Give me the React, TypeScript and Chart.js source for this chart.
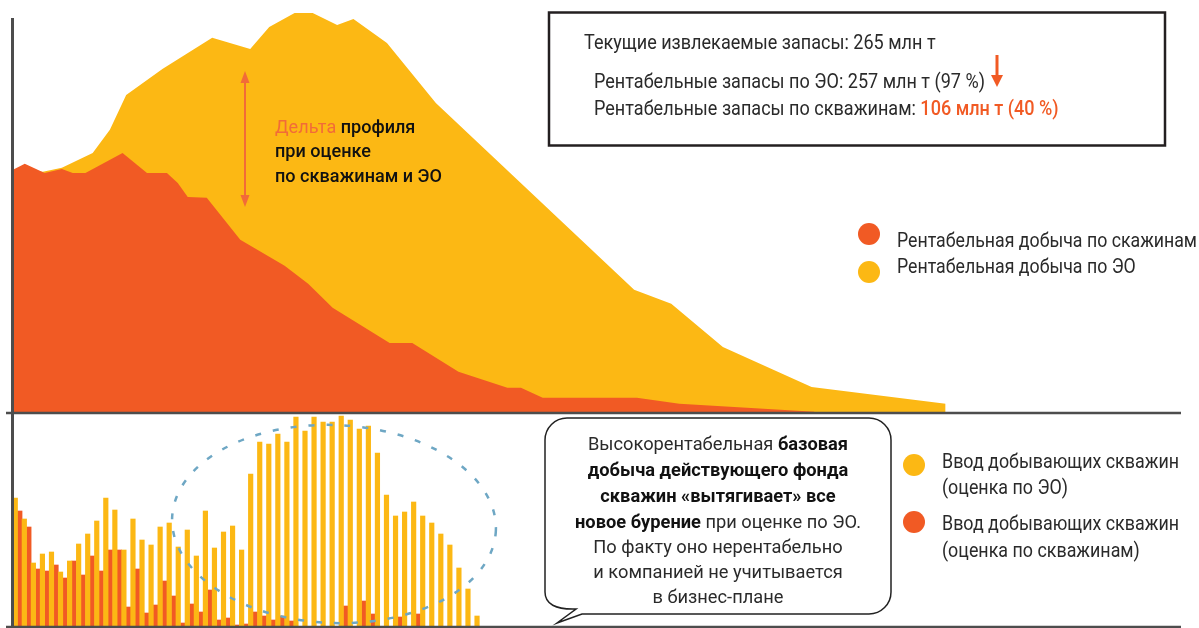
import React, { useEffect, useRef } from "react";
import { Chart, registerables } from "chart.js";

Chart.register(...registerables);

// ---- Data ----
// Upper profile: rentable production, economic-assessment (ЭО) vs per-well assessment
const ecoX = [0, 3.3, 5.4, 8.8, 10.7, 12.5, 16.5, 22.0, 26.2, 28.3, 31.1, 33.1, 35.8, 37.6, 41.3, 46.7, 68.6, 72.7, 78.4, 88.2, 103.0];
const ecoY = [60.8, 60.3, 61.3, 65.0, 70.8, 79.5, 86.0, 93.8, 91.0, 96.5, 100, 100, 97.0, 98.5, 92.5, 77.5, 30.8, 27.3, 16.5, 6.5, 2.3];
const wellX = [0, 1.3, 3.5, 5.4, 6.6, 8.0, 12.1, 14.8, 17.0, 18.2, 19.3, 21.4, 25.1, 30.0, 32.6, 35.3, 41.6, 44.1, 49.2, 54.6, 56.1, 58.5, 68.9, 73.6, 88.5];
const wellY = [60.8, 62.3, 60.0, 61.0, 60.0, 60.0, 65.0, 60.0, 60.0, 57.5, 54.0, 53.8, 43.3, 36.8, 32.3, 26.3, 17.5, 17.5, 10.3, 6.3, 6.3, 3.8, 3.8, 2.3, 0.3];

// Lower part: new producing wells per period
const drillEco = [12.9, 10.8, 6.4, 7.3, 7.5, 5.5, 6.6, 8.3, 9.3, 10.6, 12.9, 11.7, 7.7, 10.8, 8.7, 8.2, 10.0, 10.4, 8.0, 9.7, 7.1, 11.6, 7.9, 9.5, 10.1, 7.7, 15.3, 18.5, 18.3, 19.3, 18.5, 21.0, 19.6, 21.0, 20.5, 20.5, 21.1, 20.7, 19.8, 20.1, 17.4, 13.2, 11.1, 11.5, 12.5, 11.1, 10.4, 9.3, 8.2, 5.9, 3.8, 1.1];
const drillWells = [11.6, 10.0, 5.8, 5.6, 6.2, 4.9, 6.6, 5.2, 7.1, 5.6, 7.7, 7.7, 2.0, 5.8, 1.4, 2.2, 4.6, 3.1, 0.4, 2.3, 1.5, 3.7, 0.7, 0.9, 0.2, 0.3, 1.5, 1.1, 0.7, 1.1, 0.6, 0, 0, 0, 0, 0, 2.1, 0, 2.6, 1.3, 0, 0, 1.0, 0, 1.3, 0, 0, 0, 0, 0, 0, 0];

const legendTop = ["Рентабельная добыча по скажинам", "Рентабельная добыча по ЭО"];
const legendBottom = [["Ввод добывающих скважин", "(оценка по ЭО)"], ["Ввод добывающих скважин", "(оценка по скважинам)"]];

const ORANGE = "#F15A24";
const YELLOW = "#FCB814";
const DARK = "#2A2A2A";
const AXIS = "#4D4D4D";
const ACCENT = "#F26B38";
const FONT = "Roboto, 'Noto Sans', sans-serif";

type Seg = [string, string, number];

function measure(ctx: CanvasRenderingContext2D, segs: Seg[], size: number) {
  return segs.map(([t, , w]) => {
    ctx.font = `${w} ${size}px ${FONT}`;
    return ctx.measureText(t).width;
  });
}

function fitScale(ctx: CanvasRenderingContext2D, segs: Seg[], size: number, target: number) {
  const w = measure(ctx, segs, size).reduce((a, b) => a + b, 0);
  return target / w;
}

function drawSegs(ctx: CanvasRenderingContext2D, segs: Seg[], x: number, y: number, size: number, sx: number, align: "left" | "center" = "left") {
  const widths = measure(ctx, segs, size);
  const total = widths.reduce((a, b) => a + b, 0) * sx;
  const start = align === "center" ? x - total / 2 : x;
  ctx.save();
  ctx.textBaseline = "alphabetic";
  ctx.textAlign = "left";
  ctx.translate(start, y);
  ctx.scale(sx, 1);
  let cx = 0;
  segs.forEach(([t, c, w], i) => {
    ctx.font = `${w} ${size}px ${FONT}`;
    ctx.fillStyle = c;
    ctx.fillText(t, cx, 0);
    cx += widths[i];
  });
  ctx.restore();
}

function arrowHead(ctx: CanvasRenderingContext2D, x: number, y: number, dir: 1 | -1, w: number, h: number) {
  ctx.beginPath();
  ctx.moveTo(x, y);
  ctx.lineTo(x - w / 2, y - dir * h);
  ctx.lineTo(x + w / 2, y - dir * h);
  ctx.closePath();
  ctx.fill();
}

const overlay = {
  id: "overlay",
  afterDatasetsDraw(chart: any) {
    const { ctx, chartArea, scales } = chart;
    const yTop0 = scales.y.getPixelForValue(0);
    const yBot0 = scales.yb.getPixelForValue(0);
    ctx.save();
    // dashed ellipse around the drilling peak
    ctx.strokeStyle = "#6EA7C4";
    ctx.lineWidth = 2.5;
    ctx.setLineDash([6, 12]);
    ctx.beginPath();
    ctx.ellipse(334, 524, 162, 99, 0.04, 0, Math.PI * 2);
    ctx.stroke();
    ctx.setLineDash([]);
    // axes
    ctx.strokeStyle = AXIS;
    ctx.lineWidth = 2.5;
    ctx.beginPath();
    ctx.moveTo(chartArea.left - 7, yTop0);
    ctx.lineTo(chartArea.right, yTop0);
    ctx.moveTo(chartArea.left - 7, yBot0);
    ctx.lineTo(chartArea.right, yBot0);
    ctx.stroke();
    ctx.lineWidth = 3;
    ctx.beginPath();
    ctx.moveTo(chartArea.left - 0.5, 18);
    ctx.lineTo(chartArea.left - 0.5, 628);
    ctx.stroke();
    ctx.restore();
  },
  afterDraw(chart: any) {
    const ctx: CanvasRenderingContext2D = chart.ctx;
    ctx.save();

    // --- top info box ---
    ctx.strokeStyle = "#231F20";
    ctx.lineWidth = 2.5;
    ctx.strokeRect(549, 12.5, 616, 133);
    const b1: Seg[] = [["Текущие извлекаемые запасы: 265 млн т", DARK, 400]];
    const b2: Seg[] = [["Рентабельные запасы по ЭО: 257 млн т (97 %)", DARK, 400]];
    const b3: Seg[] = [["Рентабельные запасы по скважинам: ", DARK, 400], ["106 млн т (40 %)", ORANGE, 500]];
    const sBox = fitScale(ctx, b2, 21, 391);
    drawSegs(ctx, b1, 584, 49, 21, sBox);
    drawSegs(ctx, b2, 594, 88, 21, sBox);
    drawSegs(ctx, b3, 594, 115, 21, sBox);
    // down arrow in box
    ctx.strokeStyle = ORANGE;
    ctx.fillStyle = ORANGE;
    ctx.lineWidth = 3;
    ctx.beginPath();
    ctx.moveTo(997, 55);
    ctx.lineTo(997, 77);
    ctx.stroke();
    arrowHead(ctx, 997, 87, 1, 12, 12);

    // --- delta double arrow ---
    ctx.strokeStyle = ACCENT;
    ctx.fillStyle = ACCENT;
    ctx.lineWidth = 2;
    ctx.beginPath();
    ctx.moveTo(245, 80);
    ctx.lineTo(245, 199);
    ctx.stroke();
    arrowHead(ctx, 245, 71, -1, 9, 12);
    arrowHead(ctx, 245, 207, 1, 9, 12);

    const d1: Seg[] = [["Дельта ", ACCENT, 400], ["профиля", "#111", 500]];
    const d2: Seg[] = [["при оценке", "#111", 500]];
    const d3: Seg[] = [["по скважинам и ЭО", "#111", 500]];
    const sD = fitScale(ctx, d3, 18.5, 167);
    drawSegs(ctx, d1, 275, 133, 18.5, sD);
    drawSegs(ctx, d2, 275, 157, 18.5, sD);
    drawSegs(ctx, d3, 275, 182, 18.5, sD);

    // --- top legend ---
    ctx.fillStyle = ORANGE;
    ctx.beginPath();
    ctx.arc(869, 234, 11, 0, Math.PI * 2);
    ctx.fill();
    ctx.fillStyle = YELLOW;
    ctx.beginPath();
    ctx.arc(869, 272, 11, 0, Math.PI * 2);
    ctx.fill();
    const l1: Seg[] = [[legendTop[0], DARK, 400]];
    const l2: Seg[] = [[legendTop[1], DARK, 400]];
    const sL = fitScale(ctx, l1, 21, 300);
    drawSegs(ctx, l1, 897, 247, 21, sL);
    drawSegs(ctx, l2, 897, 273, 21, sL);

    // --- speech bubble ---
    const L = 545, R = 891, T = 418, B = 614, r = 22;
    ctx.beginPath();
    ctx.moveTo(L + r, T);
    ctx.lineTo(R - r, T);
    ctx.arcTo(R, T, R, T + r, r);
    ctx.lineTo(R, B - r);
    ctx.arcTo(R, B, R - r, B, r);
    ctx.lineTo(582, B);
    ctx.lineTo(557, 623);
    ctx.lineTo(576, 609);
    ctx.quadraticCurveTo(L, 610, L, 592);
    ctx.lineTo(L, T + r);
    ctx.arcTo(L, T, L + r, T, r);
    ctx.closePath();
    ctx.fillStyle = "#FFFFFF";
    ctx.fill();
    ctx.strokeStyle = "#222";
    ctx.lineWidth = 1.5;
    ctx.stroke();

    const bub: Seg[][] = [
      [["Высокорентабельная ", DARK, 400], ["базовая", "#111", 700]],
      [["добыча действующего фонда", "#111", 700]],
      [["скважин «вытягивает» все", "#111", 700]],
      [["новое бурение", "#111", 700], [" при оценке по ЭО.", DARK, 400]],
      [["По факту оно нерентабельно", DARK, 400]],
      [["и компанией не учитывается", DARK, 400]],
      [["в бизнес-плане", DARK, 400]],
    ];
    const sB = fitScale(ctx, bub[3], 18.5, 286);
    const bubY = [450, 476, 502, 528, 553, 578, 603];
    bub.forEach((segs, i) => drawSegs(ctx, segs, 718, bubY[i], 18.5, sB, "center"));

    // --- bottom legend ---
    ctx.fillStyle = YELLOW;
    ctx.beginPath();
    ctx.arc(914, 465, 11, 0, Math.PI * 2);
    ctx.fill();
    ctx.fillStyle = ORANGE;
    ctx.beginPath();
    ctx.arc(914, 522, 11, 0, Math.PI * 2);
    ctx.fill();
    const sLB = fitScale(ctx, [[legendBottom[0][0], DARK, 400]], 21, 237);
    drawSegs(ctx, [[legendBottom[0][0], DARK, 400]], 942, 468, 21, sLB);
    drawSegs(ctx, [[legendBottom[0][1], DARK, 400]], 942, 494, 21, sLB);
    drawSegs(ctx, [[legendBottom[1][0], DARK, 400]], 942, 530, 21, sLB);
    drawSegs(ctx, [[legendBottom[1][1], DARK, 400]], 942, 557, 21, sLB);

    ctx.restore();
  },
};

export default function App() {
  const ref = useRef<HTMLCanvasElement | null>(null);
  useEffect(() => {
    document.body.style.margin = "0";
    document.body.style.overflow = "hidden";
    const canvas = ref.current;
    if (!canvas) return;
    const chart = new Chart(canvas, {
      type: "line",
      data: {
        datasets: [
          {
            type: "line",
            label: legendTop[0],
            data: wellX.map((x, i) => ({ x, y: wellY[i] })),
            xAxisID: "x",
            yAxisID: "y",
            fill: "origin",
            backgroundColor: ORANGE,
            borderColor: "rgba(0,0,0,0)",
            borderWidth: 0,
            pointRadius: 0,
            tension: 0,
            order: 1,
          },
          {
            type: "line",
            label: legendTop[1],
            data: ecoX.map((x, i) => ({ x, y: ecoY[i] })),
            xAxisID: "x",
            yAxisID: "y",
            fill: "origin",
            backgroundColor: YELLOW,
            borderColor: "rgba(0,0,0,0)",
            borderWidth: 0,
            pointRadius: 0,
            tension: 0,
            order: 2,
          },
          {
            type: "bar",
            label: legendBottom[0].join(" "),
            data: drillEco.map((y, i) => ({ x: i + 0.5, y })),
            xAxisID: "x",
            yAxisID: "yb",
            backgroundColor: YELLOW,
            borderWidth: 0,
            categoryPercentage: 1,
            barPercentage: 1,
            order: 3,
          },
          {
            type: "bar",
            label: legendBottom[1].join(" "),
            data: drillWells.map((y, i) => ({ x: i + 0.5, y })),
            xAxisID: "x",
            yAxisID: "yb",
            backgroundColor: ORANGE,
            borderWidth: 0,
            categoryPercentage: 1,
            barPercentage: 1,
            order: 4,
          },
        ] as any,
      },
      options: {
        animation: false,
        responsive: false,
        maintainAspectRatio: false,
        events: [],
        layout: { padding: { left: 13, right: 18, top: 0, bottom: 1 } },
        plugins: { legend: { display: false }, tooltip: { enabled: false } },
        scales: {
          x: { type: "linear", min: 0, max: 129, display: false, offset: false, ticks: { stepSize: 20 } },
          y: { type: "linear", min: -53.5, max: 103.25, display: false },
          yb: { type: "linear", min: 0, max: 62.7, display: false },
        },
      } as any,
      plugins: [overlay],
    });
    return () => chart.destroy();
  }, []);
  return (
    <div style={{ width: 1199, height: 628, position: "relative", background: "#fff" }}>
      <canvas ref={ref} width={1199} height={628} style={{ display: "block", width: 1199, height: 628 }} />
    </div>
  );
}
